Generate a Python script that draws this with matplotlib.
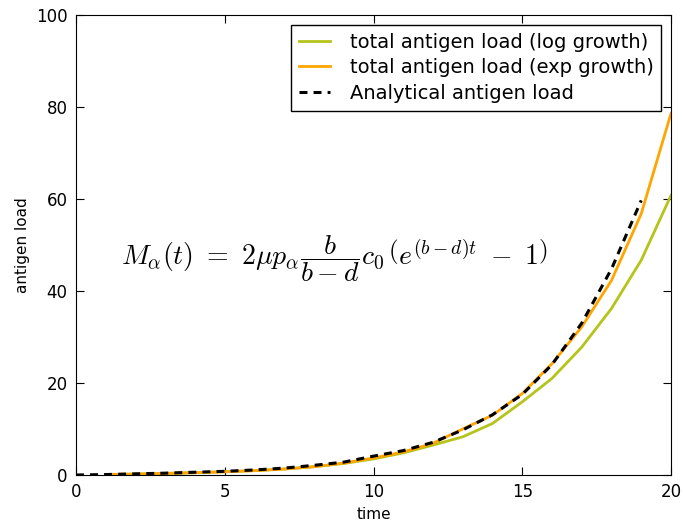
import numpy as np
import matplotlib
matplotlib.use("Agg")
import matplotlib.pyplot as plt

# data
t_sim = np.arange(1, 21)
log_load = [0.1, 0.2, 0.35, 0.5, 0.7, 0.95, 1.3, 1.8, 2.5, 3.5,
            4.8, 6.5, 8.3, 11.2, 15.9, 21.0, 27.8, 36.2, 46.7, 60.8]
exp_load = [0.1, 0.2, 0.35, 0.5, 0.7, 0.95, 1.3, 1.8, 2.6, 3.7,
            5.0, 6.9, 10.0, 13.0, 17.7, 24.2, 32.2, 42.3, 56.8, 78.6]
t_an = np.arange(0, 20)
an_load = [0.0, 0.1, 0.25, 0.4, 0.6, 0.8, 1.1, 1.5, 2.1, 2.8,
           4.1, 5.3, 7.1, 9.8, 13.1, 17.5, 24.0, 33.0, 44.8, 59.7]

plt.rcParams['mathtext.fontset'] = 'cm'

fig = plt.figure(figsize=(6.83, 5.24), dpi=100)
ax = fig.add_axes([76/683, 49/524, 595/683, 460/524])

ax.plot(t_sim, log_load, color='#b5c41a', lw=2, label='total antigen load (log growth)')
ax.plot(t_sim, exp_load, color='#ffa500', lw=2, label='total antigen load (exp growth)')
ax.plot(t_an, an_load, 'k--', lw=2.2, dashes=(2.6, 2.0), label='Analytical antigen load')

ax.set_xlim(0, 20)
ax.set_ylim(0, 100)
ax.set_xticks([0, 5, 10, 15, 20])
ax.set_yticks([0, 20, 40, 60, 80, 100])
ax.tick_params(direction='in', top=True, right=True, labelsize=12, length=6, pad=6)
ax.set_xlabel('time', fontsize=11)
ax.set_ylabel('antigen load', fontsize=11)

ax.text(1.5, 47, r'$M_\alpha(t)\ =\ 2\mu p_\alpha \dfrac{b}{b-d} c_0 \,\left(e^{(b-d)t}\ -\ 1\right)$',
        fontsize=20, va='center', ha='left')

leg = ax.legend(loc='upper right', fontsize=14, fancybox=False, framealpha=1,
                edgecolor='black', handlelength=1.6, handletextpad=1.0,
                labelspacing=0.35, borderaxespad=0.5)
leg.get_frame().set_linewidth(1)

fig.savefig('out.png', dpi=100)
